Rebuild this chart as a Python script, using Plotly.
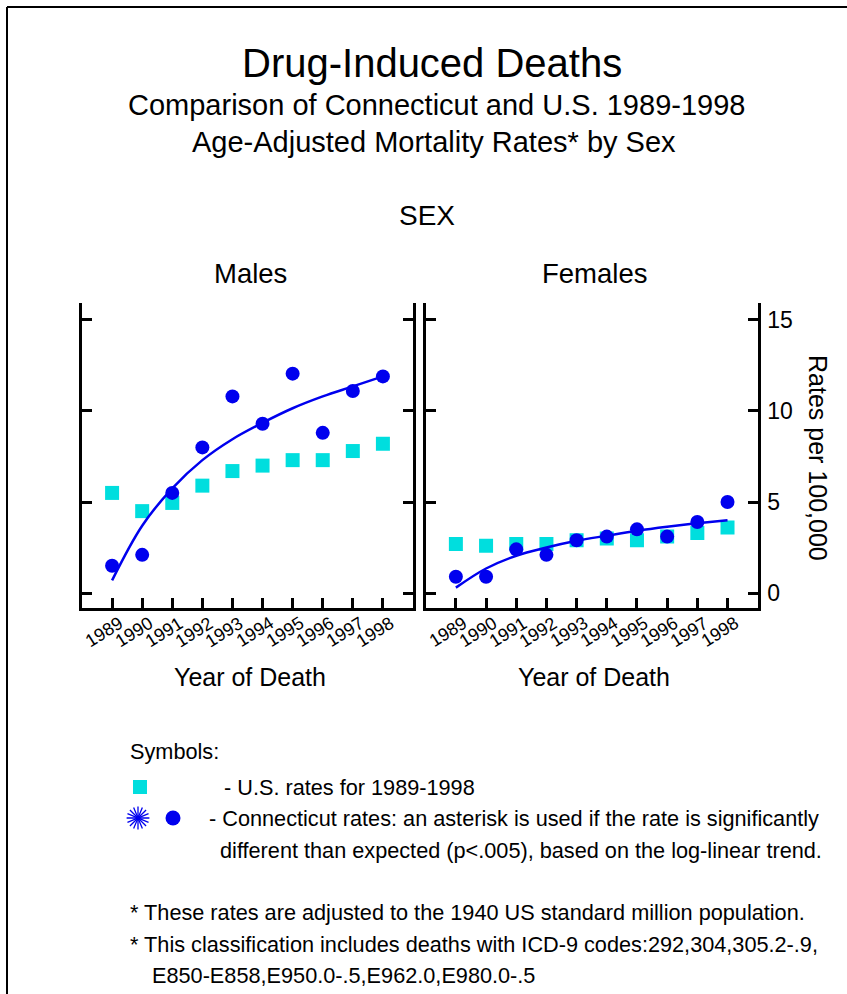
import plotly.graph_objects as go

# ---- data -------------------------------------------------------------
years = [1989, 1990, 1991, 1992, 1993, 1994, 1995, 1996, 1997, 1998]
year_labels = [str(y) for y in years]

male_us = [5.5, 4.5, 4.95, 5.9, 6.7, 7.0, 7.3, 7.3, 7.8, 8.2]
male_ct = [1.5, 2.1, 5.5, 8.0, 10.8, 9.3, 12.05, 8.8, 11.1, 11.9]
male_trend = [0.7, 3.7, 5.75, 7.3, 8.45, 9.35, 10.15, 10.8, 11.35, 11.9]

female_us = [2.7, 2.6, 2.7, 2.7, 2.9, 3.0, 2.9, 3.1, 3.3, 3.6]
female_ct = [0.9, 0.9, 2.4, 2.1, 2.9, 3.1, 3.5, 3.1, 3.9, 5.0]
female_trend = [0.3, 1.35, 2.05, 2.5, 2.87, 3.15, 3.42, 3.64, 3.83, 4.0]

y_ticks = [0, 5, 10, 15]

# ---- styling ----------------------------------------------------------
W, H = 847, 994
FONT = "Liberation Sans, Arial, Helvetica, sans-serif"
CYAN = "#00DEDE"
BLUE = "#0000EE"
BLACK = "#000000"


def px(x):
    return x / W


def py(y):
    return 1 - y / H


fig = go.Figure()

panels = [
    ("x", "y", male_us, male_ct, male_trend),
    ("x2", "y2", female_us, female_ct, female_trend),
]
for xa, ya, us, ct, trend in panels:
    fig.add_trace(go.Scatter(
        x=years, y=us, xaxis=xa, yaxis=ya, mode="markers",
        marker=dict(symbol="square", size=14, color=CYAN),
        showlegend=False, hoverinfo="skip"))
    fig.add_trace(go.Scatter(
        x=years, y=ct, xaxis=xa, yaxis=ya, mode="markers",
        marker=dict(symbol="circle", size=14, color=BLUE),
        showlegend=False, hoverinfo="skip"))
    fig.add_trace(go.Scatter(
        x=years, y=trend, xaxis=xa, yaxis=ya, mode="lines",
        line=dict(color=BLUE, width=2.5, shape="spline", smoothing=1),
        showlegend=False, hoverinfo="skip"))


def key(x, y, **marker):
    """One legend key symbol on the full-page pixel axis."""
    fig.add_trace(go.Scatter(
        x=[x], y=[y], xaxis="x3", yaxis="y3", mode="markers",
        marker=marker, showlegend=False, hoverinfo="skip", opacity=1))


key(140, 787, symbol="square", size=14, color=CYAN)
for ang in (0, 22.5):
    key(138, 818, symbol="asterisk-open", size=19, angle=ang, color=BLUE,
        line=dict(color=BLUE, width=1.3))
key(138, 818, symbol="circle", size=5, color=BLUE)
key(173, 818, symbol="circle", size=15, color=BLUE)

x_range = [1988, 1999]
y_range = [-0.82, 15.93]
y_dom = [py(608), py(303)]

common_x = dict(range=x_range, tickvals=years, showticklabels=False,
                ticks="inside", ticklen=10, tickwidth=2.5, tickcolor=BLACK,
                showline=True, linewidth=3, linecolor=BLACK, mirror=False,
                showgrid=False, zeroline=False, fixedrange=True)
common_y = dict(range=y_range, tickvals=y_ticks,
                ticks="inside", ticklen=10, tickwidth=2.5, tickcolor=BLACK,
                showline=True, linewidth=3, linecolor=BLACK, mirror="ticks",
                showgrid=False, zeroline=False, fixedrange=True, domain=y_dom)

fig.update_layout(
    width=W, height=H,
    margin=dict(l=0, r=0, t=0, b=0),
    paper_bgcolor="white", plot_bgcolor="rgba(0,0,0,0)",
    font=dict(family=FONT, color=BLACK),
    xaxis=dict(common_x, domain=[px(82), px(413)], anchor="y"),
    yaxis=dict(common_y, anchor="x", showticklabels=False),
    xaxis2=dict(common_x, domain=[px(425.7), px(757.7)], anchor="y2"),
    yaxis2=dict(common_y, anchor="x2", side="right", showticklabels=True,
                tickfont=dict(size=23), ticklabelstandoff=2),
    xaxis3=dict(domain=[0, 1], range=[0, W], visible=False, fixedrange=True,
                anchor="y3"),
    yaxis3=dict(domain=[0, 1], range=[H, 0], visible=False, fixedrange=True,
                anchor="x3"),
)

# outer frame (left and top edges visible)
fig.add_shape(type="line", xref="paper", yref="paper",
              x0=px(7), x1=px(7), y0=-0.01, y1=py(7),
              line=dict(color=BLACK, width=2))
fig.add_shape(type="line", xref="paper", yref="paper",
              x0=px(7), x1=1.01, y0=py(7), y1=py(7),
              line=dict(color=BLACK, width=2))

ann = []


def text(x, y, s, size, xanchor="center", angle=0):
    ann.append(dict(x=px(x), y=py(y), xref="paper", yref="paper", text=s,
                    showarrow=False, xanchor=xanchor, yanchor="middle",
                    textangle=angle, font=dict(size=size, family=FONT)))


text(432, 63, "Drug-Induced Deaths", 40)
text(436, 105, "Comparison of Connecticut and U.S. 1989-1998", 29)
text(434, 142, "Age-Adjusted Mortality Rates* by Sex", 29)
text(427, 216, "SEX", 28)
text(250, 274, "Males", 27.5)
text(594, 274, "Females", 27.5)
text(250, 677, "Year of Death", 25)
text(594, 677, "Year of Death", 25)
text(818, 458, "Rates per 100,000", 25, angle=90)

FS = 21.7
text(128, 751, "Symbols:", FS, xanchor="left")
text(222, 787, "- U.S. rates for 1989-1998", FS, xanchor="left")
text(207, 818, "- Connecticut rates: an asterisk is used if the rate is significantly", FS, xanchor="left")
text(218, 850, "different than expected (p<.005), based on the log-linear trend.", FS, xanchor="left")
text(128, 912, "* These rates are adjusted to the 1940 US standard million population.", FS, xanchor="left")
text(128, 944, "* This classification includes deaths with ICD-9 codes:292,304,305.2-.9,", FS, xanchor="left")
text(150, 975, "E850-E858,E950.0-.5,E962.0,E980.0-.5", FS, xanchor="left")

# rotated year labels under each panel
for xref in ("x", "x2"):
    for yr, lab in zip(years, year_labels):
        ann.append(dict(x=yr, y=py(632), xref=xref, yref="paper", text=lab,
                        showarrow=False, xanchor="center", yanchor="middle",
                        xshift=-8, textangle=-32,
                        font=dict(size=18, family=FONT)))

fig.update_layout(annotations=ann)

fig.write_html("out.html")
